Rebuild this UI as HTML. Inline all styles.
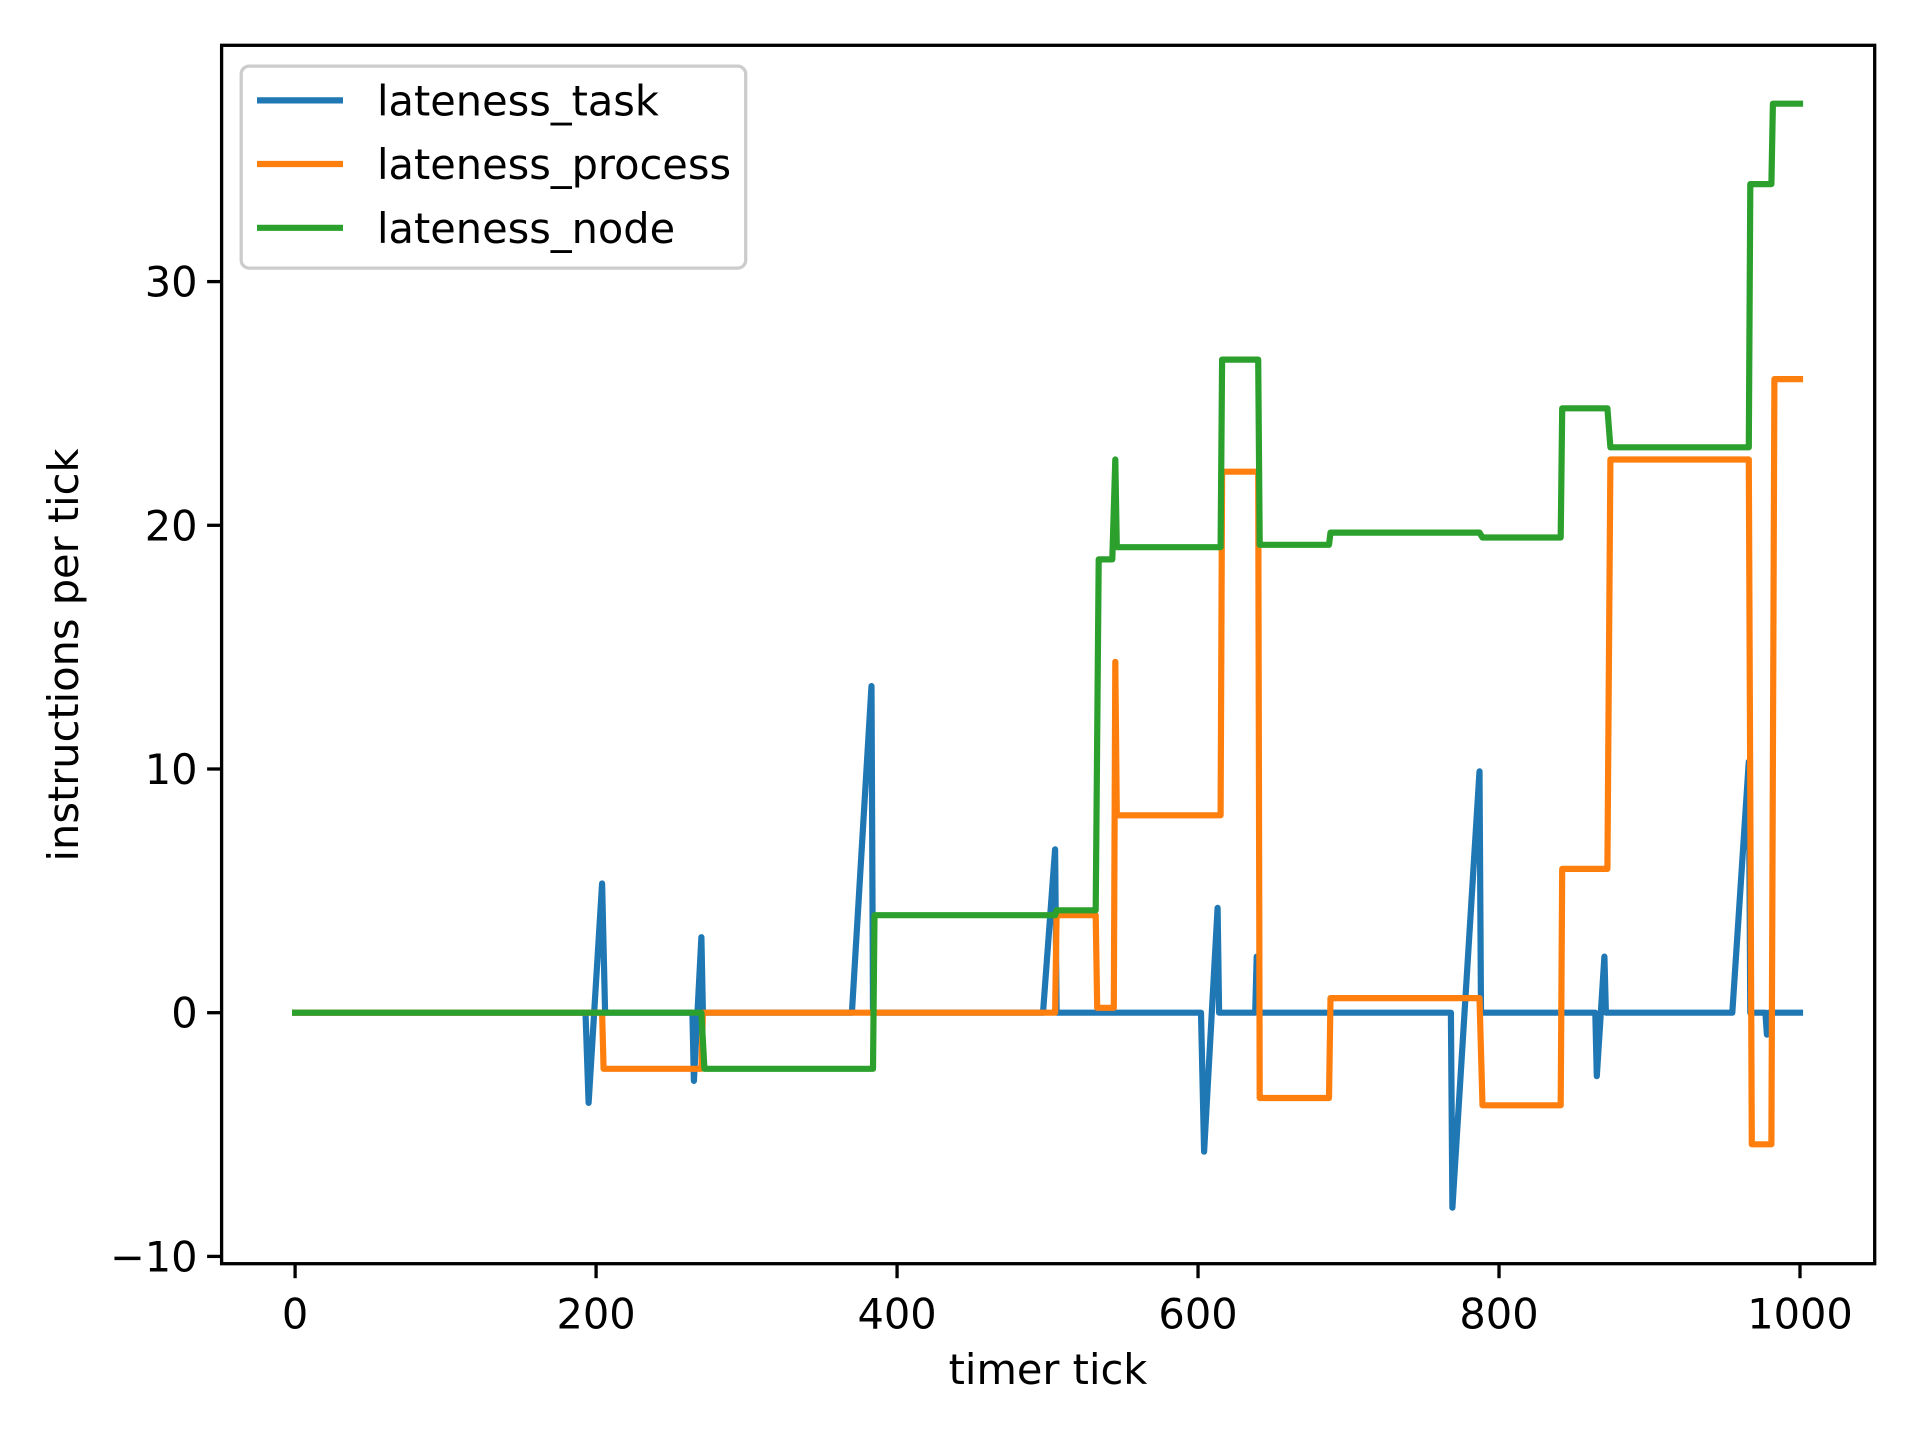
<!DOCTYPE html>
<html><head><meta charset="utf-8"><style>
html,body{margin:0;padding:0;background:#fff;}
svg{display:block;font-family:"DejaVu Sans","Liberation Sans",sans-serif;}
</style></head><body>
<svg id="chart" width="1920" height="1440" viewBox="0 0 1920 1440" xmlns="http://www.w3.org/2000/svg">
<rect x="0" y="0" width="1920" height="1440" fill="#fff"/>
<g id="plot"></g>
<g id="axes"></g>
<g id="legend"></g>
</svg>
<script>
const xTicks = [0, 200, 400, 600, 800, 1000];
const yTicks = [-10, 0, 10, 20, 30];
const yTickLabels = ["\u221210", "0", "10", "20", "30"];
const taskX = [0,193,195,204,206,264,265,270,271,370,383,384,497,505,506,602,604,613,614,638,639,640,768,769,787,788,864,865,870,871,955,966,967,977,978,979,1000];
const taskY = [0,0,-3.7,5.3,0,0,-2.8,3.1,0,0,13.4,0,0,6.7,0,0,-5.7,4.3,0,0,2.3,0,0,-8,9.9,0,0,-2.6,2.3,0,0,10.3,0,0,-0.9,0,0];
const procX = [0,204,205,270,271,505,506,532,533,544,545,546,547,615,616,640,641,687,688,787,789,841,842,872,874,966,968,981,983,1000];
const procY = [0,0,-2.3,-2.3,0,0,4.0,4.0,0.2,0.2,14.4,8.1,8.1,8.1,22.2,22.2,-3.5,-3.5,0.6,0.6,-3.8,-3.8,5.9,5.9,22.7,22.7,-5.4,-5.4,26.0,26.0];
const nodeX = [0,270,272,384,385,505,506,532,534,543,545,546,547,615,616,640,641,687,688,787,789,841,842,872,874,966,967,981,982,1000];
const nodeY = [0,0,-2.3,-2.3,4.0,4.0,4.2,4.2,18.6,18.6,22.7,19.1,19.1,19.1,26.8,26.8,19.2,19.2,19.7,19.7,19.5,19.5,24.8,24.8,23.2,23.2,34.0,34.0,37.3,37.3];
const seriesNames = ["lateness_task","lateness_process","lateness_node"];
const seriesColors = ["#1f77b4","#ff7f0e","#2ca02c"];

const L=221.6,R=1874.7,T=45.3,B=1263.7;
const sx = v => 295.1 + v*(1800-295.1)/1000;
const sy = v => 1012.7 - v*24.37;
const NS="http://www.w3.org/2000/svg";
function mk(tag, attrs, parent){const e=document.createElementNS(NS,tag);for(const k in attrs)e.setAttribute(k,attrs[k]);parent.appendChild(e);return e;}
const plot=document.getElementById('plot'), axes=document.getElementById('axes'), legend=document.getElementById('legend');

const xs=[taskX,procX,nodeX], ys=[taskY,procY,nodeY];
for(let s=0;s<3;s++){
  const d=xs[s].map((x,i)=>(i?'L':'M')+sx(x).toFixed(1)+' '+sy(ys[s][i]).toFixed(1)).join(' ');
  const p=mk('path',{d:d,fill:'none',stroke:seriesColors[s],'stroke-width':6.2,'stroke-linejoin':'round','stroke-linecap':'square'},plot);
  
  
}
const frame=mk('rect',{x:L,y:T,width:R-L,height:B-T,fill:'none',stroke:'#000','stroke-width':3.3},axes);


xTicks.forEach(v=>{
  const t=mk('line',{x1:sx(v),x2:sx(v),y1:B,y2:B+14.5,stroke:'#000','stroke-width':3.3},axes);
  
  
  const tx=mk('text',{x:sx(v),y:B+65,'text-anchor':'middle','font-size':41.5,fill:'#000'},axes);
  tx.textContent=String(v);
  
  
});
yTicks.forEach((v,i)=>{
  const t=mk('line',{x1:L-14.5,x2:L,y1:sy(v),y2:sy(v),stroke:'#000','stroke-width':3.3},axes);
  
  
  const tx=mk('text',{x:L-24,y:sy(v)+15,'text-anchor':'end','font-size':41.5,fill:'#000'},axes);
  tx.textContent=yTickLabels[i];
  
  
});
const xl=mk('text',{x:1048,y:1384,'text-anchor':'middle','font-size':41.5,fill:'#000'},axes);
xl.textContent='timer tick';


const yl=mk('text',{x:0,y:0,'text-anchor':'middle','font-size':41.5,fill:'#000',transform:'translate(78,655) rotate(-90)'},axes);
yl.textContent='instructions per tick';



const lb=mk('rect',{x:241.2,y:66.1,width:504.5,height:202,rx:8,fill:'#fff','fill-opacity':0.8,stroke:'#ccc','stroke-width':3.3},legend);


const rows=[100.4,164,227.8];
for(let s=0;s<3;s++){
  const g=mk('g',{},legend);
  
  
  mk('line',{x1:257,x2:343,y1:rows[s],y2:rows[s],stroke:seriesColors[s],'stroke-width':6.2},g);
  const t=mk('text',{x:377,y:rows[s]+15,'font-size':41.5,fill:'#000'},g);
  t.textContent=seriesNames[s];
  
  
}
</script>
</body></html>
